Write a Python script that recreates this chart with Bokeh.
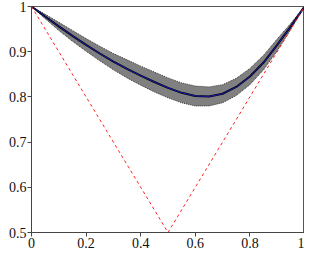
from bokeh.plotting import figure
from bokeh.embed import file_html
from bokeh.resources import INLINE
from bokeh.models import FixedTicker, Range1d

# data
xs = [0.0, 0.05, 0.1, 0.15, 0.2, 0.25, 0.3, 0.35, 0.4, 0.45, 0.5, 0.55, 0.6, 0.65, 0.7, 0.75, 0.8, 0.85, 0.9, 0.95, 1.0]
mean_y = [1.0, 0.978, 0.956, 0.935, 0.915, 0.896, 0.878, 0.862, 0.847, 0.833, 0.820, 0.809, 0.802, 0.801, 0.807, 0.822, 0.845, 0.876, 0.915, 0.956, 1.0]
spread = [0.0, 0.005, 0.009, 0.012, 0.014, 0.016, 0.018, 0.020, 0.021, 0.022, 0.022, 0.022, 0.022, 0.021, 0.020, 0.019, 0.018, 0.016, 0.013, 0.007, 0.0]
ref_x = [0.0, 0.5, 1.0]
ref_y = [1.0, 0.5, 1.0]
x_ticks = [0, 0.2, 0.4, 0.6, 0.8, 1]
x_labels = ["0", "0.2", "0.4", "0.6", "0.8", "1"]
y_ticks = [0.5, 0.6, 0.7, 0.8, 0.9, 1]
y_labels = ["0.5", "0.6", "0.7", "0.8", "0.9", "1"]

upper = [m + s for m, s in zip(mean_y, spread)]
lower = [m - s for m, s in zip(mean_y, spread)]

p = figure(width=304, height=250, output_backend="svg", toolbar_location=None,
           x_range=Range1d(0, 1), y_range=Range1d(0.5, 1),
           min_border_left=31, min_border_top=6, min_border_right=0, min_border_bottom=0)
p.grid.visible = False
p.background_fill_color = "white"
p.border_fill_color = "white"
p.outline_line_color = "#555555"

band_x = xs + xs[::-1]
band_y = upper + lower[::-1]
p.patch(band_x, band_y, fill_color="#808080", line_color=None)
p.line(xs, upper, line_color="#333333", line_width=1, line_dash="1 1")
p.line(xs, lower, line_color="#333333", line_width=1, line_dash="1 1")
p.line(xs, mean_y, line_color="#000000", line_width=2)
p.line(xs, mean_y, line_color="#1a1ab0", line_width=1)
p.line(ref_x, ref_y, line_color="#ff2020", line_width=1, line_dash="3 3")

for ax, ticks, labels in ((p.xaxis, x_ticks, x_labels), (p.yaxis, y_ticks, y_labels)):
    ax.ticker = FixedTicker(ticks=ticks)
    ax.major_label_overrides = {t: l for t, l in zip(ticks, labels)}
    ax.minor_tick_line_color = None
    ax.major_tick_in = 0
    ax.major_tick_out = 4
    ax.axis_line_color = "#444444"
    ax.major_tick_line_color = "#444444"
    ax.major_label_text_font = "Liberation Serif"
    ax.major_label_text_font_size = "14px"
    ax.major_label_text_color = "#111111"
    ax.major_label_standoff = 1

open("out.html", "w").write(file_html(p, INLINE))
